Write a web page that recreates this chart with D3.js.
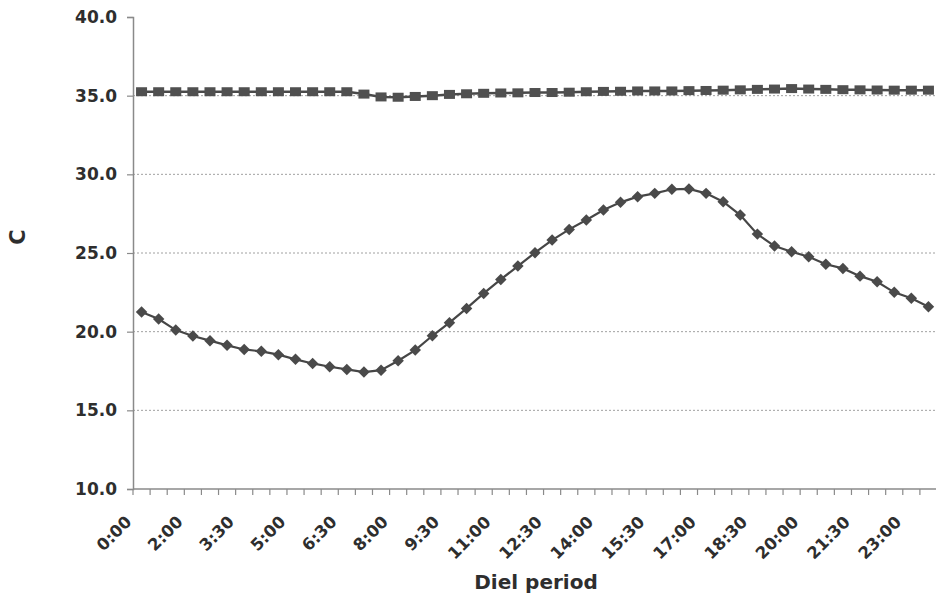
<!DOCTYPE html>
<html>
<head>
<meta charset="utf-8">
<script src="https://cdn.jsdelivr.net/npm/d3@7"></script>
<style>
  html, body { margin: 0; padding: 0; background: #fff; }
  svg { display: block; }
  text { font-family: "DejaVu Sans", "Liberation Sans", Arial, sans-serif; font-weight: bold; fill: #2e2e2e; }
</style>
</head>
<body>
<svg id="chart" width="936" height="600"></svg>
<script>
// ---- data ----
const categories = ["0:00","1:00","1:30","2:00","2:30","3:00","3:30","4:00","4:30","5:00","5:30","6:00","6:30","7:00","7:30","8:00","8:30","9:00","9:30","10:00","10:30","11:00","11:30","12:00","12:30","13:00","13:30","14:00","14:30","15:00","15:30","16:00","16:30","17:00","17:30","18:00","18:30","19:00","19:30","20:00","20:30","21:00","21:30","22:00","22:30","23:00","23:30"];

const squareSeries = [35.25,35.25,35.25,35.25,35.25,35.25,35.25,35.25,35.25,35.25,35.25,35.25,35.25,
  35.1,34.92,34.9,34.95,35.0,35.08,35.12,35.15,35.17,35.18,35.2,35.2,35.22,35.25,35.27,35.28,35.3,
  35.3,35.3,35.32,35.33,35.35,35.37,35.4,35.42,35.45,35.42,35.4,35.38,35.37,35.36,35.35,35.35,35.35];

const diamondSeries = [21.25,20.8,20.1,19.72,19.43,19.13,18.87,18.75,18.54,18.24,
  17.98,17.77,17.6,17.43,17.55,18.15,18.83,19.74,20.57,21.48,
  22.43,23.32,24.17,25.02,25.82,26.5,27.1,27.73,28.22,28.58,
  28.79,29.05,29.07,28.79,28.26,27.41,26.2,25.44,25.08,24.76,
  24.28,24.02,23.53,23.17,22.5,22.12,21.58];

const yTicks = [10,15,20,25,30,35,40];
const gridValues = [15,20,25,30,35];
const xLabelEvery = 3;
const yTitle = "C";
const xTitle = "Diel period";

// ---- layout ----
const svg = d3.select("#chart");
const mLeft = 133, mRight = 937, mTop = 17, mBottom = 489;

const x = d3.scaleBand().domain(categories).range([mLeft, mRight]).padding(0);
const y = d3.scaleLinear().domain([10, 40]).range([mBottom, mTop]);
const cx = c => x(c) + x.bandwidth() / 2;

// gridlines
svg.append("g").selectAll("line").data(gridValues).join("line")
  .attr("x1", mLeft).attr("x2", mRight)
  .attr("y1", d => y(d)).attr("y2", d => y(d))
  .attr("stroke", "#a0a0a0").attr("stroke-width", 1)
  .attr("stroke-dasharray", "2,2");

// y axis
const yAxis = svg.append("g").attr("transform", `translate(${mLeft},0)`)
  .call(d3.axisLeft(y).tickValues(yTicks).tickFormat(d3.format(".1f")).tickSize(6).tickPadding(10));
yAxis.select(".domain").attr("stroke", "#8a8a8a").attr("stroke-width", 1.5);
yAxis.selectAll(".tick line").attr("stroke", "#8a8a8a").attr("stroke-width", 1.2);
yAxis.selectAll(".tick text").style("font-size", "17px").style("font-family", "DejaVu Sans").style("font-weight", "bold").attr("fill", "#2e2e2e");

// x axis line
svg.append("line").attr("x1", mLeft).attr("x2", mRight).attr("y1", mBottom).attr("y2", mBottom)
  .attr("stroke", "#8a8a8a").attr("stroke-width", 1.5);
// x tick marks at band boundaries
svg.append("g").selectAll("line").data(categories).join("line")
  .attr("x1", d => x(d)).attr("x2", d => x(d))
  .attr("y1", mBottom).attr("y2", mBottom + 6)
  .attr("stroke", "#8a8a8a").attr("stroke-width", 1.2);

// x labels
svg.append("g").selectAll("text")
  .data(categories.filter((d, i) => i % xLabelEvery === 0)).join("text")
  .attr("transform", d => `translate(${cx(d) - 9},${mBottom + 34}) rotate(-45)`)
  .attr("text-anchor", "end")
  .style("font-size", "16.5px")
  .text(d => d);

// titles
svg.append("text").attr("x", 536).attr("y", 589)
  .attr("text-anchor", "middle").style("font-size", "20px").text(xTitle);
svg.append("text").attr("transform", `translate(25,237) rotate(-90)`)
  .attr("text-anchor", "middle").style("font-size", "21px").text(yTitle);

// lines
const line = d3.line().x((d, i) => cx(categories[i])).y(d => y(d));
svg.append("path").datum(squareSeries).attr("d", line)
  .attr("fill", "none").attr("stroke", "#4a4a4a").attr("stroke-width", 2.5);
svg.append("path").datum(diamondSeries).attr("d", line)
  .attr("fill", "none").attr("stroke", "#464646").attr("stroke-width", 2.2);

// square markers
svg.append("g").selectAll("rect").data(squareSeries).join("rect")
  .attr("x", (d, i) => cx(categories[i]) - 5.5)
  .attr("y", d => y(d) - 4.5)
  .attr("width", 11).attr("height", 9)
  .attr("fill", "#505050");

// diamond markers
const diamond = d3.symbol().type(d3.symbolSquare).size(66);
svg.append("g").selectAll("path").data(diamondSeries).join("path")
  .attr("d", diamond)
  .attr("transform", (d, i) => `translate(${cx(categories[i])},${y(d)}) rotate(45)`)
  .attr("fill", "#4a4a4a");
</script>
</body>
</html>
